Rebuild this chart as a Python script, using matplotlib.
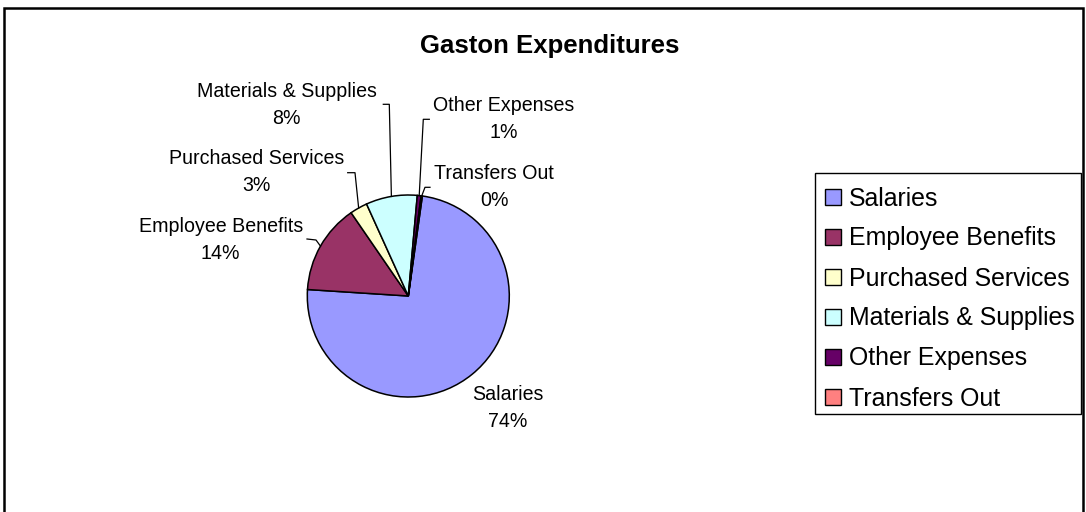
import matplotlib
matplotlib.use("Agg")
import matplotlib.pyplot as plt
import matplotlib.patches as mpatches
import numpy as np

plt.rcParams["font.family"] = ["Liberation Sans", "DejaVu Sans"]

# Expenditure shares (percent of total)
categories = ["Salaries", "Employee Benefits", "Purchased Services",
              "Materials & Supplies", "Other Expenses", "Transfers Out"]
shares = [73.8, 14.4, 2.8, 8.2, 0.6, 0.2]
colors = ["#9999FF", "#993366", "#FFFFCC", "#CCFFFF", "#660066", "#FF8080"]

W, H = 1086, 512
CENTER = (408.3, H - 296)
RADIUS = 101

# label layout: (x center, first baseline) in pixel units from the top-left
label_pos = [(508, 400), (220.7, 231.7), (256.7, 164.3),
             (286.7, 96.7), (503.3, 110.7), (494.2, 179)]
# leader lines: (elbow, tail) in pixel units from the top-left, None = no line
leaders = [None,
           ((316, 240), (307, 239)),
           ((355, 172.7), (347.7, 172.7)),
           ((389.3, 104.3), (383.3, 104.3)),
           ((423.3, 119.3), (429.3, 119.3)),
           ((425, 187.3), (430, 187.3))]

LABEL_FS = 14.1
LEGEND_FS = 17.9
LINE_GAP = 27

fig = plt.figure(figsize=(W / 100, H / 100), dpi=100, facecolor="white")
ax = fig.add_axes([0, 0, 1, 1])

wedges, _ = ax.pie(shares, colors=colors, startangle=82, counterclock=False,
                   center=CENTER, radius=RADIUS, frame=True,
                   wedgeprops=dict(edgecolor="black", linewidth=1.1))
ax.set_xlim(0, W)
ax.set_ylim(0, H)
ax.set_aspect("equal")
ax.axis("off")

total = sum(shares)
for w, name, val, (lx, ly), lead in zip(wedges, categories, shares, label_pos, leaders):
    pct = f"{round(val / total * 100):.0f}%"
    ax.text(lx, H - ly, name, ha="center", va="baseline", fontsize=LABEL_FS)
    ax.text(lx, H - ly - LINE_GAP, pct, ha="center", va="baseline", fontsize=LABEL_FS)
    if lead is not None:
        mid = np.deg2rad((w.theta1 + w.theta2) / 2)
        rim = (CENTER[0] + RADIUS * np.cos(mid), CENTER[1] + RADIUS * np.sin(mid))
        (ex, ey), (tx, ty) = lead
        ax.plot([rim[0], ex, tx], [rim[1], H - ey, H - ty], color="black",
                linewidth=0.9, clip_on=False)

# title
ax.text(549.7, H - 53.3, "Gaston Expenditures", ha="center", va="baseline",
        fontsize=18.5, fontweight="bold")

# outer chart frame (open at the bottom)
ax.plot([4, 4, 1083, 1083], [0, H - 8, H - 8, 0], color="black", linewidth=1.8,
        solid_joinstyle="miter", clip_on=False)

# legend box
ax.add_patch(mpatches.Rectangle((815, H - 414), 266, 241, facecolor="white",
                                edgecolor="black", linewidth=1.0))
for i, (name, c) in enumerate(zip(categories, colors)):
    yc = H - (196.5 + 40 * i)
    ax.add_patch(mpatches.Rectangle((825, yc - 8), 16, 16, facecolor=c,
                                    edgecolor="black", linewidth=1.0))
    ax.text(849, yc - 9, name, ha="left", va="baseline", fontsize=LEGEND_FS)

fig.savefig("out.png", dpi=100, facecolor="white")
